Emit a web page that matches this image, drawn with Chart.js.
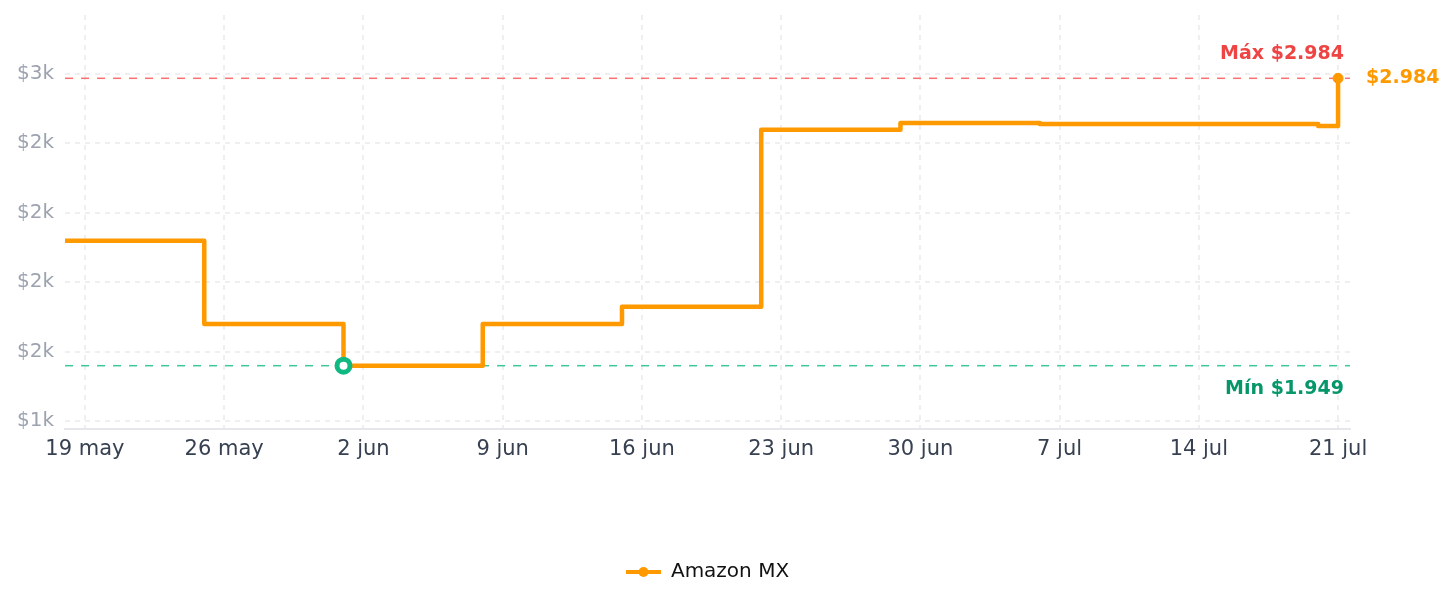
<!DOCTYPE html>
<html>
<head>
<meta charset="utf-8">
<script src="https://cdn.jsdelivr.net/npm/chart.js@4"></script>
<style>
  html, body { margin: 0; padding: 0; background: #fff; }
  #wrap { width: 1452px; height: 607px; }
</style>
</head>
<body>
<div id="wrap"><canvas id="priceChart"></canvas></div>
<script>
// Days counted from 19 May (day 0)
const days = [-1, 6, 13, 20, 27, 34, 41, 48, 62, 63];
const prices = [2399, 2099, 1949, 2099, 2161, 2799, 2823, 2819, 2812, 2984];
const seriesName = "Amazon MX";

const xTickDays = [0, 7, 14, 21, 28, 35, 42, 49, 56, 63];
const xTickLabels = ["19 may", "26 may", "2 jun", "9 jun", "16 jun", "23 jun", "30 jun", "7 jul", "14 jul", "21 jul"];
const yTicks = [1750, 2000, 2250, 2500, 2750, 3000];

const ORANGE = "#ff9900";
const maxPrice = Math.max(...prices);
const minPrice = Math.min(...prices);
const minIdx = prices.indexOf(minPrice);
const lastIdx = prices.length - 1;

function money(n) {
  return "$" + String(n).replace(/\B(?=(\d{3})+(?!\d))/g, ".");
}

Chart.defaults.font.family = "'DejaVu Sans', sans-serif";

// legend icon: line with dot
const icon = document.createElement("canvas");
icon.width = 35; icon.height = 12;
const ic = icon.getContext("2d");
ic.strokeStyle = ORANGE; ic.lineWidth = 4;
ic.beginPath(); ic.moveTo(0, 6); ic.lineTo(35, 6); ic.stroke();
ic.fillStyle = ORANGE;
ic.beginPath(); ic.arc(17.5, 6, 5, 0, Math.PI * 2); ic.fill();

// max / min reference lines and labels
const refLines = {
  id: "refLines",
  beforeDatasetsDraw(chart) {
    const { ctx, chartArea: a, scales: { y } } = chart;
    ctx.save();
    ctx.lineWidth = 1.5;
    ctx.setLineDash([8, 8]);
    [[maxPrice, "#f87171"], [minPrice, "rgba(16,185,129,0.8)"]].forEach(([v, c]) => {
      const py = y.getPixelForValue(v);
      ctx.strokeStyle = c;
      ctx.beginPath(); ctx.moveTo(a.left, py); ctx.lineTo(a.right, py); ctx.stroke();
    });
    ctx.restore();
  },
  afterDatasetsDraw(chart) {
    const { ctx, chartArea: a, scales: { x, y } } = chart;
    ctx.save();
    ctx.font = "bold 19px 'DejaVu Sans'";
    ctx.textBaseline = "middle";
    ctx.textAlign = "right";
    ctx.fillStyle = "#ef4444";
    ctx.fillText("Máx " + money(maxPrice), a.right - 6, y.getPixelForValue(maxPrice) - 24);
    ctx.fillStyle = "#059669";
    ctx.fillText("Mín " + money(minPrice), a.right - 6, y.getPixelForValue(minPrice) + 23);
    ctx.textAlign = "left";
    ctx.fillStyle = ORANGE;
    ctx.fillText(money(prices[lastIdx]), x.getPixelForValue(days[lastIdx]) + 28, y.getPixelForValue(prices[lastIdx]));
    ctx.restore();
  }
};

const ctx = document.getElementById("priceChart").getContext("2d");
const priceChart = new Chart(ctx, {
  type: "line",
  data: {
    datasets: [{
      label: seriesName,
      data: days.map((d, i) => ({ x: d, y: prices[i] })),
      borderColor: ORANGE,
      backgroundColor: ORANGE,
      borderWidth: 4.5,
      borderJoinStyle: "round",
      stepped: "before",
      fill: false,
      pointRadius: (c) => c.dataIndex === minIdx ? 6.5 : (c.dataIndex === lastIdx ? 5 : 0),
      pointBackgroundColor: (c) => c.dataIndex === minIdx ? "#ffffff" : ORANGE,
      pointBorderColor: (c) => c.dataIndex === minIdx ? "#10b981" : ORANGE,
      pointBorderWidth: (c) => c.dataIndex === minIdx ? 5 : 1,
    }]
  },
  options: {
    responsive: true,
    maintainAspectRatio: false,
    animation: false,
    layout: { padding: { left: 6, right: 102, top: 15, bottom: 15 } },
    scales: {
      x: {
        type: "linear",
        min: -1,
        max: 63.6,
        afterBuildTicks: (s) => { s.ticks = xTickDays.map(v => ({ value: v })); },
        afterFit: (s) => { s.height = 123; s.paddingLeft = 0; s.paddingRight = 0; },
        ticks: {
          callback: (v, i) => xTickLabels[i],
          autoSkip: false,
          maxRotation: 0,
          padding: 8,
          color: "#374151",
          font: { size: 21 }
        },
        grid: { color: "#efefef", lineWidth: 2, drawTicks: false },
        border: { display: true, color: "#e5e7eb", width: 2, dash: [5, 5] }
      },
      y: {
        min: 1721,
        max: 3212,
        afterBuildTicks: (s) => { s.ticks = yTicks.map(v => ({ value: v })); },
        afterFit: (s) => { s.paddingTop = 0; s.paddingBottom = 0; },
        ticks: {
          callback: (v) => "$" + Math.floor(v / 1000) + "k",
          padding: 11,
          color: "#9ca3af",
          font: { size: 20 }
        },
        grid: { color: "#efefef", lineWidth: 2, drawTicks: false },
        border: { display: false, dash: [5, 5] }
      }
    },
    plugins: {
      tooltip: { enabled: false },
      legend: {
        position: "bottom",
        fullSize: false,
        labels: {
          usePointStyle: true,
          pointStyleWidth: 35,
          color: "#111111",
          font: { size: 20 },
          generateLabels: (chart) =>
            Chart.defaults.plugins.legend.labels.generateLabels(chart).map(l => ({ ...l, pointStyle: icon }))
        }
      }
    }
  },
  plugins: [refLines]
});
</script>
</body>
</html>
